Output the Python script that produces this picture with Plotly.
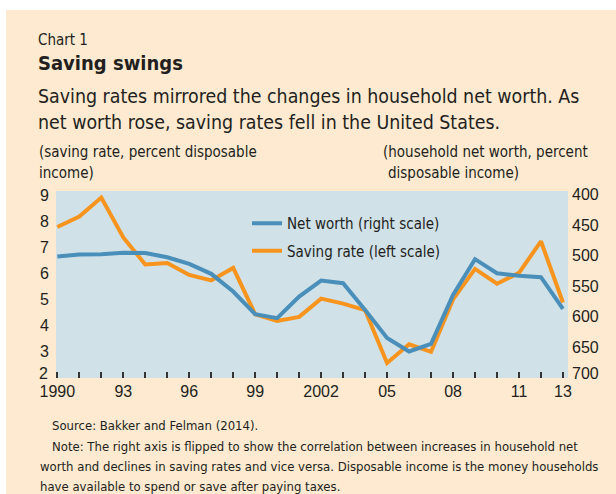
import plotly.graph_objects as go

years = list(range(1990, 2014))
saving_rate = [7.79, 8.19, 8.92, 7.39, 6.35, 6.41, 5.95, 5.74, 6.22, 4.44, 4.18, 4.34,
               5.04, 4.85, 4.60, 2.57, 3.29, 3.00, 5.01, 6.18, 5.61, 6.03, 7.24, 4.89]
net_worth = [501.8, 498.5, 497.9, 495.3, 495.8, 502.8, 513.7, 530.0, 559.0, 596.0, 602.5, 567.2,
             541.0, 545.3, 589.0, 635.0, 657.0, 644.5, 564.4, 506.0, 529.0, 533.3, 535.5, 587.3]
x_labels = {1990: "1990", 1993: "93", 1996: "96", 1999: "99", 2002: "2002",
            2005: "05", 2008: "08", 2011: "11", 2013: "13"}
left_ticks = [3, 4, 5, 6, 7, 8, 9]
left_bottom_label = "2"
left_marks = [3, 4, 5, 6, 7, 8]
right_ticks = [400, 450, 500, 550, 600, 650]
right_bottom_label = "700"
right_marks = [450, 500, 550, 600, 650]

W, H = 616, 494
L, R, T, B = 56, 48, 191, 116
PW, PH = W - L - R, H - T - B

def xp(px):
    return (px - L) / PW

def yp(py):
    return (H - B - py) / PH

CREAM = "#FDEAD0"
PLOTBG = "#D0E1E8"
BLUE = "#4A8FBA"
ORANGE = "#F7941E"
TXT = "#231F20"
COND = "DejaVu Sans Condensed, Liberation Sans Narrow, sans-serif"
REG = "Liberation Sans, Arial, sans-serif"

fig = go.Figure()
fig.add_trace(go.Scatter(x=years, y=net_worth, yaxis="y2", mode="lines",
                         name="Net worth (right scale)", legendgroup="a",
                         line=dict(color=BLUE, width=4)))
fig.add_trace(go.Scatter(x=years, y=saving_rate, yaxis="y", mode="lines",
                         name="Saving rate (left scale)", legendgroup="b",
                         line=dict(color=ORANGE, width=4)))

yl_range = [1.995, 9.17]
yr_range = [700.5, 394.4]
tickfont = dict(family=REG, size=16, color=TXT)
plain = dict(showgrid=False, zeroline=False, showline=False, overlaying="y")

fig.update_layout(
    width=W, height=H,
    margin=dict(l=L, r=R, t=T, b=B, pad=0),
    paper_bgcolor=CREAM, plot_bgcolor=PLOTBG,
    showlegend=True,
    legend=dict(x=xp(247), y=yp(207), xanchor="left", yanchor="top",
                bgcolor="rgba(0,0,0,0)", font=dict(family=COND, size=15, color=TXT),
                itemwidth=30, traceorder="grouped", tracegroupgap=5),
    xaxis=dict(range=[1989.94, 2013.23], tickvals=years,
               ticktext=[x_labels.get(y, "") for y in years],
               ticks="inside", ticklen=6, tickwidth=1.5, tickcolor="#333",
               showgrid=False, zeroline=False, showline=False,
               tickfont=tickfont, ticklabelstandoff=2),
    yaxis=dict(range=yl_range, tickvals=left_ticks, ticks="", showgrid=False,
               zeroline=False, showline=False, tickfont=tickfont, ticklabelstandoff=6),
    yaxis2=dict(range=yr_range, tickvals=right_ticks, ticks="", side="right",
                tickfont=tickfont, ticklabelstandoff=3, **plain),
    yaxis3=dict(range=yl_range, tickvals=left_marks, ticks="inside", ticklen=12,
                tickwidth=1.5, tickcolor="#333", showticklabels=False, side="left", **plain),
    yaxis4=dict(range=yr_range, tickvals=right_marks, ticks="inside", ticklen=12,
                tickwidth=1.5, tickcolor="#333", showticklabels=False, side="right", **plain),
)

# white outer margins (top and left) outside the cream panel
fig.add_shape(type="rect", xref="paper", yref="paper", x0=xp(0), x1=xp(6),
              y0=yp(H), y1=yp(0), fillcolor="white", line=dict(width=0), layer="below")
fig.add_shape(type="rect", xref="paper", yref="paper", x0=xp(0), x1=xp(W),
              y0=yp(10), y1=yp(0), fillcolor="white", line=dict(width=0), layer="below")

def text(s, x, y, size, bold=False, font=COND, anchor="left"):
    fig.add_annotation(text=("<b>%s</b>" % s) if bold else s, xref="paper", yref="paper",
                       x=xp(x), y=yp(y), xanchor=anchor, yanchor="middle",
                       showarrow=False, align="left",
                       font=dict(family=font, size=size, color=TXT))

# bottom axis labels sit a little above the plot floor in the original
text(left_bottom_label, 50, 373, 16, font=REG, anchor="right")
text(right_bottom_label, 570, 373, 16, font=REG, anchor="left")

text("Chart 1", 36, 40, 15)
text("Saving swings", 36, 63, 20, bold=True)
text("Saving rates mirrored the changes in household net worth. As", 36, 96, 19.4)
text("net worth rose, saving rates fell in the United States.", 36, 122, 19.4)
text("(saving rate, percent disposable", 37, 152, 15)
text("income)", 37, 173, 15)
text("(household net worth, percent", 381, 152, 15)
text("disposable income)", 386, 173, 15)
text("Source: Bakker and Felman (2014).", 50, 425, 13)
text("Note: The right axis is flipped to show the correlation between increases in household net", 50, 446, 13)
text("worth and declines in saving rates and vice versa. Disposable income is the money households", 38, 466, 13)
text("have available to spend or save after paying taxes.", 38, 486, 13)

fig.write_html("out.html", config={"displayModeBar": False},
               post_script="document.body.style.margin='0';")
